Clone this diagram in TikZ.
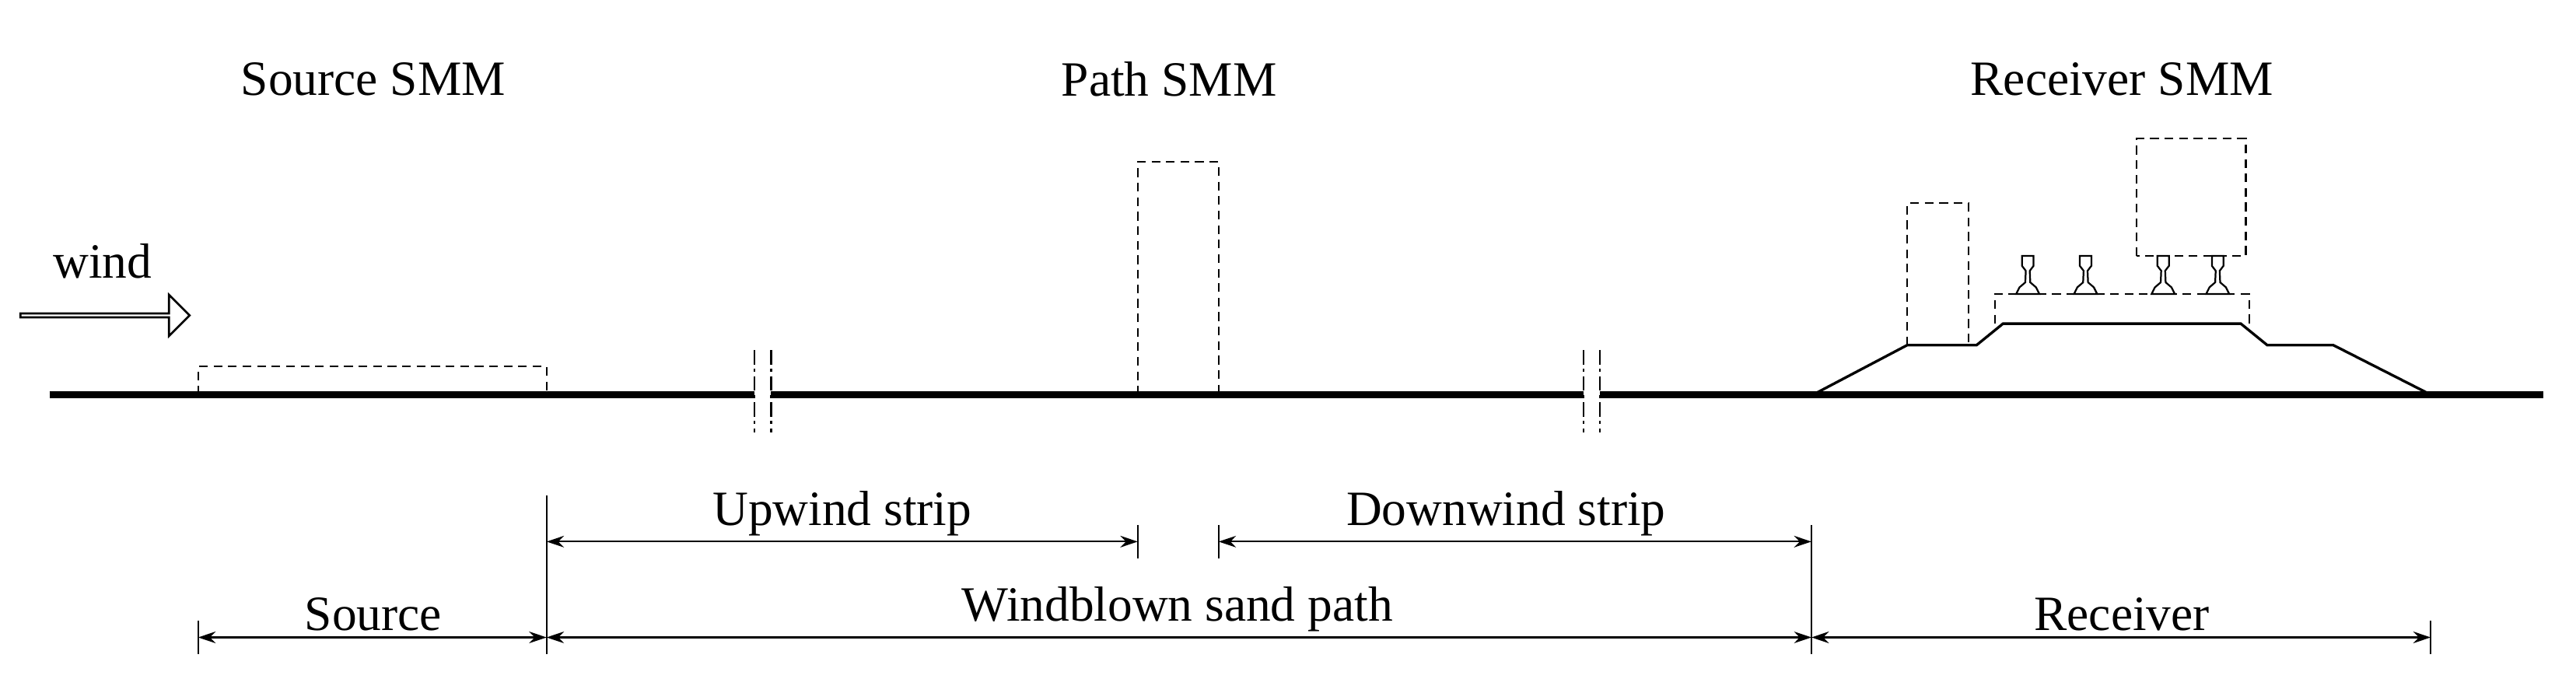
\documentclass[tikz,border=0pt]{standalone}
\usepackage{fontspec}
\setmainfont{Liberation Serif}
\usetikzlibrary{arrows.meta,shapes.arrows}
\begin{document}
\begin{tikzpicture}[x=0.02cm,y=-0.02cm,
 lbl/.style={font=\fontsize{17}{20}\selectfont,inner sep=0pt},
 smm/.style={draw,dashed,line width=0.6pt,dash pattern=on 3pt off 2pt},
 dim/.style={line width=0.6pt,{Stealth[length=6pt,width=4pt]}-{Stealth[length=6pt,width=4pt]}},
 tick/.style={line width=0.6pt},
 brk/.style={line width=0.6pt,dash pattern=on 5pt off 1.5pt on 1pt off 1.5pt},
 ground/.style={line width=2.2pt},
 emb/.style={line width=0.9pt}]
\useasboundingbox (0,0) rectangle (1560,415);
% titles
\node[lbl] (t1) at (226,48) {Source SMM};
\node[lbl] (t2) at (708,48) {Path SMM};
\node[lbl] (t3) at (1285,48) {Receiver SMM};
\node[lbl] (wind) at (62,158) {wind};
\node[single arrow,draw,line width=0.7pt,minimum height=2.05cm,minimum width=0.5cm,single arrow head extend=0.12cm,inner sep=0pt,shape border rotate=0] (warr) at (63,191) {};
% ground
\coordinate (g0) at (30,239); \coordinate (g1) at (457,239);
\coordinate (g2) at (467,239); \coordinate (g3) at (959,239);
\coordinate (g4) at (969,239); \coordinate (g5) at (1540,239);
\draw[ground] (g0)--(g1) (g2)--(g3) (g4)--(g5);
\foreach \x in {457,467,959,969}{\draw[brk] (\x,212)--(\x,262);}
% source SMM
\draw[smm] (120,239)--(120,222)--(331,222)--(331,239);
% path SMM
\draw[smm] (689,239)--(689,98)--(738,98)--(738,239);
% embankment
\draw[emb] (1098,239)--(1155,209)--(1197,209)--(1213,196)--(1357,196)--(1373,209)--(1413,209)--(1472,239);
\draw[smm] (1155,209)--(1155,123)--(1192,123)--(1192,209);
\draw[smm] (1208,196)--(1208,178)--(1362,178)--(1362,196);
\draw[smm] (1294,155)--(1294,84)--(1360,84)--(1360,155)--cycle;
\foreach \x in {1228,1263,1310,1343}{
 \draw[line width=0.6pt,fill=white] (\x-7,178)--(\x+7,178)--(\x+5,174)--(\x+1.5,171)--(\x+1.2,164)--(\x+3.5,161)--(\x+3.5,155)--(\x-3.5,155)--(\x-3.5,161)--(\x-1.2,164)--(\x-1.5,171)--(\x-5,174)--cycle;}
% dimensions
\coordinate (a1) at (331,328); \coordinate (a2) at (689,328);
\coordinate (b1) at (738,328); \coordinate (b2) at (1097,328);
\coordinate (c0) at (120,386); \coordinate (c1) at (331,386);
\coordinate (c2) at (1097,386); \coordinate (c3) at (1472,386);
\draw[tick] (331,300)--(331,396) (689,318)--(689,338) (738,318)--(738,338)
 (1097,318)--(1097,396) (120,376)--(120,396) (1472,376)--(1472,396);
\draw[dim] (a1)--(a2); \draw[dim] (b1)--(b2);
\draw[dim] (c0)--(c1); \draw[dim] (c1)--(c2); \draw[dim] (c2)--(c3);
\node[lbl] (l1) at (510,311) {Upwind strip};
\node[lbl] (l2) at (912,311) {Downwind strip};
\node[lbl] (l3) at (226,372) {Source};
\node[lbl] (l4) at (713,369) {Windblown sand path};
\node[lbl] (l5) at (1285,372) {Receiver};
\end{tikzpicture}
\end{document}
